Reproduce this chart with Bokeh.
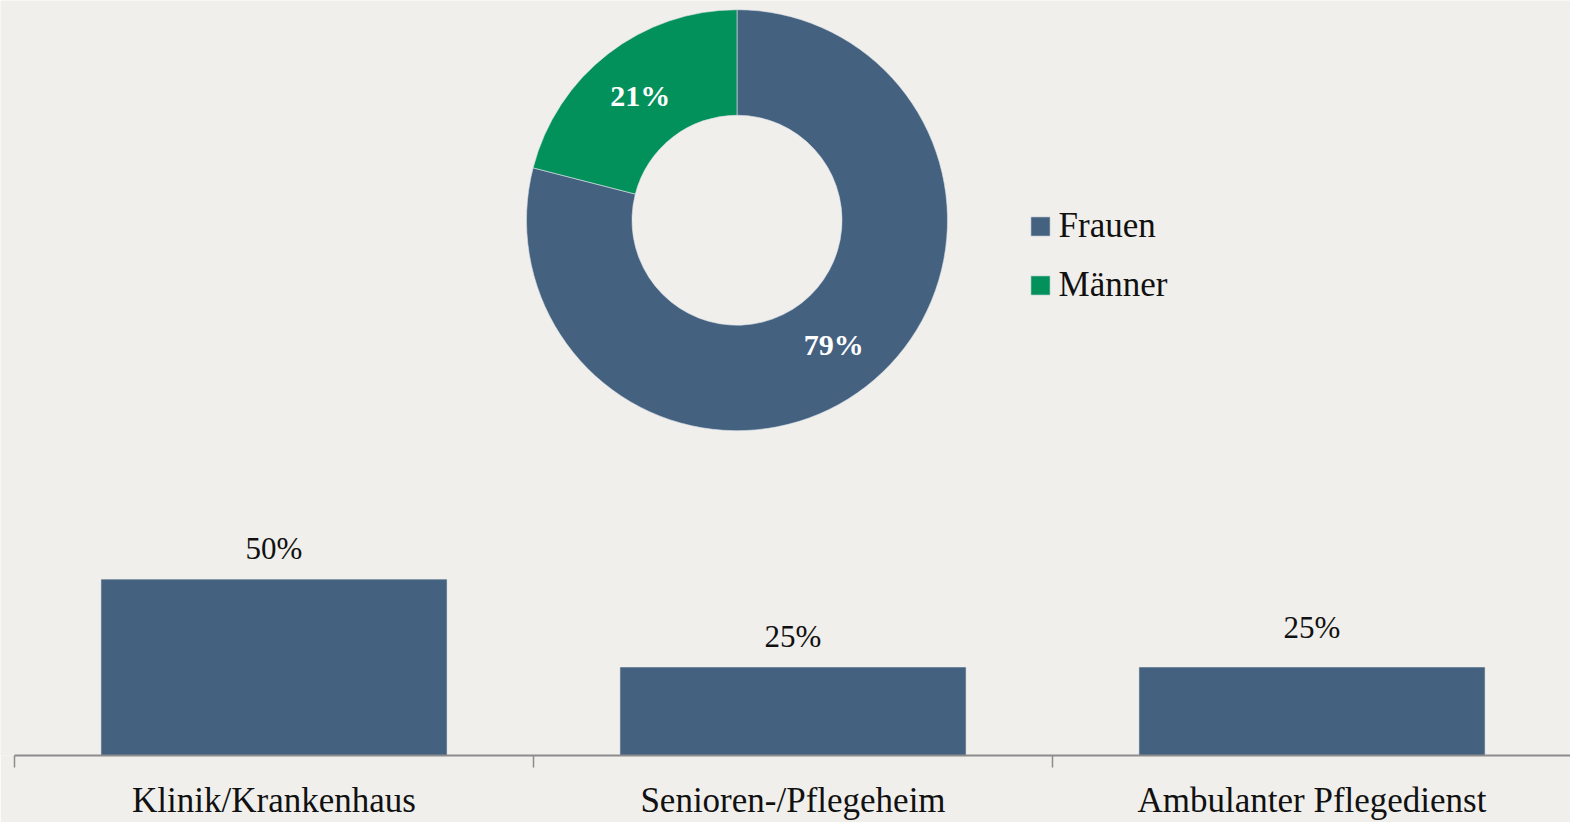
import math
from bokeh.plotting import figure
from bokeh.models import (ColumnDataSource, Range1d, LinearAxis, FixedTicker,
                          Legend, LegendItem)
from bokeh.core.properties import value
from bokeh.embed import file_html
from bokeh.resources import INLINE

# ---------------- data ----------------
gender_labels = ["Frauen", "Männer"]
gender_shares = [79, 21]
gender_colors = ["#44617F", "#02915B"]

bar_categories = ["Klinik/Krankenhaus", "Senioren-/Pflegeheim", "Ambulanter Pflegedienst"]
bar_values = [50, 25, 25]
bar_label_shift_px = [-31, -31, -40]   # label offsets above the bars (screen px)

BG = "#F0EFEB"
FONT = "Liberation Serif"
W, H = 1570, 822
AXIS_Y = 756               # page y of the category axis
cat_w = 519.0              # px per category
px_per_unit = 176 / 50.0   # px per percentage point

x0 = -14 / cat_w
x1 = x0 + W / cat_w
p = figure(width=W, height=H, x_range=Range1d(x0, x1),
           y_range=Range1d(0, AXIS_Y / px_per_unit),
           output_backend="svg", toolbar_location=None,
           min_border_left=0, min_border_right=0, min_border_top=0,
           min_border_bottom=H - AXIS_Y,
           background_fill_color=BG, border_fill_color=BG, outline_line_color=None,
           x_axis_location=None, y_axis_location=None)
p.grid.visible = False

# ---------------- donut (screen-sized, placed above the bars) ----------------
cx = x0 + 736.5 / cat_w
cy = (AXIS_Y - 220) / px_per_unit
r_out, r_in = 210.5, 105
total = sum(gender_shares)
starts, ends, dx, dy, txt = [], [], [], [], []
ang = math.pi / 2
rm = (r_out + r_in) / 2
for s in gender_shares:
    a0 = ang
    a1 = ang - 2 * math.pi * s / total
    starts.append(a1)
    ends.append(a0)
    mid = (a0 + a1) / 2
    dx.append(rm * math.cos(mid))
    dy.append(-rm * math.sin(mid))
    txt.append(f"{s}%")
    ang = a1

dsrc = ColumnDataSource(dict(start=starts, end=ends, color=gender_colors,
                             label=gender_labels, dx=dx, dy=dy, txt=txt))
wedges = p.annular_wedge(x=cx, y=cy, inner_radius=r_in, outer_radius=r_out,
                         inner_radius_units="screen", outer_radius_units="screen",
                         start_angle="start", end_angle="end",
                         fill_color="color", line_color="#DCE3EA", line_width=0.6,
                         source=dsrc)
p.text(x=cx, y=cy, text="txt", x_offset="dx", y_offset="dy", source=dsrc,
       text_color="white", text_font=value(FONT), text_font_size="30px",
       text_font_style="bold", text_align="center", text_baseline="middle")

legend = Legend(items=[LegendItem(label=gender_labels[i], renderers=[wedges], index=i)
                       for i in range(len(gender_labels))],
                location=(1027.6, AXIS_Y - 306), orientation="vertical",
                glyph_width=24, glyph_height=24, label_height=20,
                label_text_font=FONT, label_text_font_size="35px",
                label_text_color="#111111", label_standoff=7,
                spacing=19, padding=0, margin=0,
                border_line_color=None, background_fill_alpha=0)
p.add_layout(legend, "center")

# ---------------- bars ----------------
xs = [i + 0.5 for i in range(len(bar_categories))]
bsrc = ColumnDataSource(dict(x=xs, top=bar_values, cat=bar_categories,
                             lab=[f"{v}%" for v in bar_values], dy=bar_label_shift_px))
p.vbar(x="x", top="top", width=0.665, bottom=0, source=bsrc,
       fill_color=gender_colors[0], line_color="#5E7891", line_width=0.8)
p.text(x="x", y="top", text="lab", y_offset="dy", source=bsrc,
       text_font=value(FONT), text_font_size="31px", text_color="#111111",
       text_align="center", text_baseline="middle")

xaxis = LinearAxis(ticker=FixedTicker(ticks=xs, minor_ticks=list(range(len(bar_categories) + 1))),
                   major_label_overrides={x: c for x, c in zip(xs, bar_categories)},
                   major_tick_in=0, major_tick_out=0,
                   minor_tick_in=0, minor_tick_out=12,
                   minor_tick_line_color="#8C8C8C", minor_tick_line_width=1.5,
                   axis_line_color="#8C8C8C", axis_line_width=1.8,
                   major_label_text_font=FONT, major_label_text_font_size="35px",
                   major_label_text_color="#111111", major_label_standoff=13,
                   bounds=(0, x1))
p.add_layout(xaxis, "below")

open("out.html", "w").write(file_html(p, INLINE))
